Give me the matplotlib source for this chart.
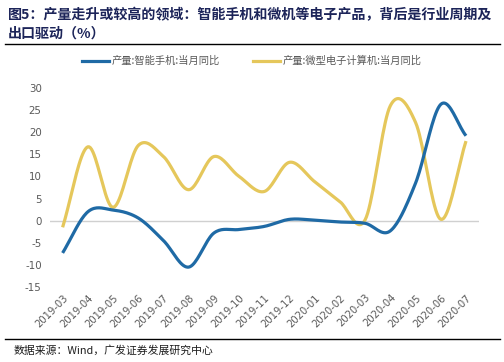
import numpy as np
import matplotlib
matplotlib.use("Agg")
import matplotlib.pyplot as plt
from matplotlib.lines import Line2D

plt.rcParams['font.family'] = ['Noto Sans CJK SC', 'DejaVu Sans']

months = ['2019-03', '2019-04', '2019-05', '2019-06', '2019-07', '2019-08', '2019-09',
          '2019-10', '2019-11', '2019-12', '2020-01', '2020-02', '2020-03', '2020-04',
          '2020-05', '2020-06', '2020-07']
phone = [-7.3, 2.0, 2.4, 0.6, -4.5, -10.5, -2.8, -2.0, -1.3, 0.3, 0.1, -0.3, -0.6, -2.3,
         8.5, 26.3, 19.2]
pc = [-1.5, 16.7, 3.0, 17.0, 14.5, 7.0, 14.5, 10.0, 6.6, 13.2, 8.8, 4.3, 0.2, 26.0,
      22.2, 0.3, 18.0]
yticks = [30, 25, 20, 15, 10, 5, 0, -5, -10, -15]

BLUE = '#1F6AA5'
YELLOW = '#E5C75B'


def smooth(y, n=20):
    # catmull-rom curve through the monthly points, like excel's smoothed line
    y = np.asarray(y, float)
    x = np.arange(len(y), dtype=float)
    px = np.concatenate([[2 * x[0] - x[1]], x, [2 * x[-1] - x[-2]]])
    py = np.concatenate([[2 * y[0] - y[1]], y, [2 * y[-1] - y[-2]]])
    xs, ys = [], []
    for i in range(1, len(px) - 2):
        t = np.linspace(0, 1, n, endpoint=False)
        for p, out in ((px, xs), (py, ys)):
            p0, p1, p2, p3 = p[i - 1], p[i], p[i + 1], p[i + 2]
            out.append(0.5 * (2 * p1 + (-p0 + p2) * t + (2 * p0 - 5 * p1 + 4 * p2 - p3) * t ** 2
                              + (-p0 + 3 * p1 - 3 * p2 + p3) * t ** 3))
    xs.append([x[-1]])
    ys.append([y[-1]])
    return np.concatenate(xs), np.concatenate(ys)


fig = plt.figure(figsize=(5.04, 3.62), dpi=100)
ax = fig.add_axes([50 / 504, 1 - 287 / 362, (478.6 - 50) / 504, (287 - 88) / 362])

ax.axhline(0, color='#D0D0D0', lw=1.0, zorder=1)
sx, sy = smooth(phone)
ax.plot(sx, sy, color=BLUE, lw=2.3, solid_capstyle='butt', zorder=3)
sx, sy = smooth(pc)
ax.plot(sx, sy, color=YELLOW, lw=2.3, solid_capstyle='butt', zorder=2)

ax.set_xlim(-0.5, len(months) - 0.5)
ax.set_ylim(-15, 30)
ax.set_yticks(yticks)
ax.set_yticklabels([str(v) for v in yticks], fontsize=7.4, color='#595959', family='DejaVu Sans')
ax.set_xticks(range(len(months)))
ax.set_xticklabels(months, rotation=45, ha='right', rotation_mode='anchor',
                   fontsize=7.2, color='#595959', family='DejaVu Sans')
ax.tick_params(length=0, pad=6)
ax.tick_params(axis='x', pad=4)
for s in ax.spines.values():
    s.set_visible(False)

# title
fig.text(8 / 504, 1 - 19 / 362, '图5：产量走升或较高的领域：智能手机和微机等电子产品，背后是行业周期及',
         fontsize=10.1, fontweight='bold', color='#1C2459', va='baseline')
fig.text(8 / 504, 1 - 38 / 362, '出口驱动（%）',
         fontsize=10.1, fontweight='bold', color='#1C2459', va='baseline')
fig.add_artist(Line2D([5 / 504, 500 / 504], [1 - 44 / 362] * 2, color='black', lw=1.0))

# legend
handles = [Line2D([], [], color=BLUE, lw=2.3), Line2D([], [], color=YELLOW, lw=2.3)]
fig.legend(handles, ['产量:智能手机:当月同比', '产量:微型电子计算机:当月同比'],
           loc='center', bbox_to_anchor=(0.5, 1 - 61 / 362), ncol=2, frameon=False,
           fontsize=7.4, labelcolor='#595959', handlelength=2.6, columnspacing=3.2,
           handletextpad=0.3)

# footer
fig.add_artist(Line2D([5 / 504, 500 / 504], [1 - 339 / 362] * 2, color='black', lw=1.0))
fig.text(14 / 504, 1 - 354 / 362, '数据来源：Wind，广发证券发展研究中心', fontsize=7.8,
         color='#1C1C1C', va='baseline')

fig.savefig('out.png', dpi=100)
